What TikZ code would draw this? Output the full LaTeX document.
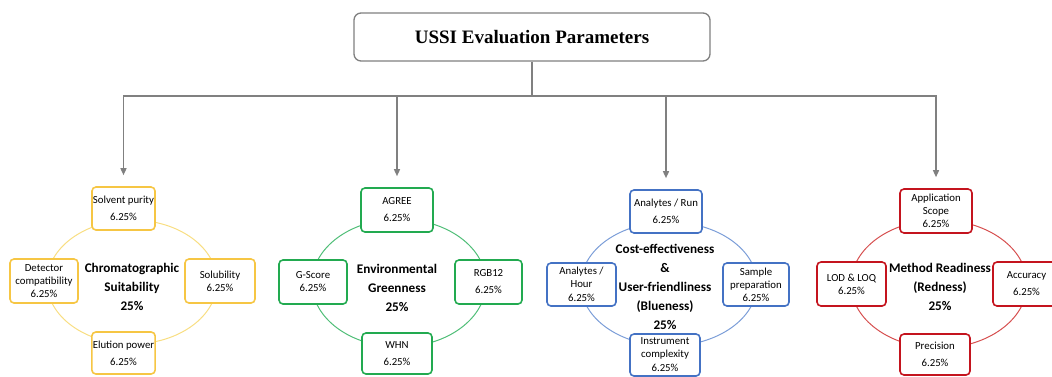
\documentclass[tikz,border=0pt]{standalone}
\usepackage{fontspec}
\setmainfont{Carlito}
\newfontfamily\titlefont{Liberation Serif}
\usetikzlibrary{arrows.meta}

\definecolor{connGray}{RGB}{128,128,128}
\definecolor{yBox}{RGB}{246,198,68}
\definecolor{yRing}{RGB}{248,222,130}
\definecolor{gBox}{RGB}{34,170,80}
\definecolor{gRing}{RGB}{80,190,120}
\definecolor{bBox}{RGB}{68,114,196}
\definecolor{bRing}{RGB}{124,158,216}
\definecolor{rBox}{RGB}{196,20,30}
\definecolor{rRing}{RGB}{214,80,80}

\tikzset{
  headbox/.style={draw=connGray, line width=1.3pt, rounded corners=7pt, fill=white,
    minimum width=356pt, minimum height=48pt,
    font=\titlefont\bfseries\fontsize{19}{22}\selectfont},
  bus/.style={draw=connGray, line width=1.4pt},
  conn/.style={draw=connGray, line width=1.4pt, -{Triangle[length=7pt,width=6pt]}, shorten >=11pt},
  param/.style={draw=#1, line width=1.6pt, rounded corners=4pt, fill=white, align=center,
    inner sep=1pt, font=\fontsize{10.8}{13}\selectfont},
  hub/.style={align=center, font=\bfseries\fontsize{13.2}{19}\selectfont},
  ring/.style={draw=#1, line width=1pt}
}

\begin{document}
\begin{tikzpicture}[x=1pt,y=-1pt]
\useasboundingbox (0,0) rectangle (1052,376);
\clip (0,0) rectangle (1052,376);

% header and distribution bus
\node[headbox] (title) at (532,37) {USSI Evaluation Parameters};
\coordinate (bus) at (532,96);

% ---- chromatographic suitability (yellow)
\draw[ring=yRing] (132,282) ellipse [x radius=85pt, y radius=62pt];
\node[hub] (c1) at (132,287) {Chromatographic\\Suitability\\25\%};
\node[param=yBox, minimum width=63pt, minimum height=43pt] (c1t) at (123.5,208.5) {Solvent purity\\[4pt]6.25\%};
\node[param=yBox, minimum width=68pt, minimum height=44pt] (c1l) at (44,281) {Detector\\compatibility\\6.25\%};
\node[param=yBox, minimum width=70pt, minimum height=44pt] (c1r) at (220,281) {Solubility\\6.25\%};
\node[param=yBox, minimum width=63pt, minimum height=42pt] (c1b) at (123.5,353) {Elution power\\[4pt]6.25\%};

% ---- environmental greenness (green)
\draw[ring=gRing] (399,283) ellipse [x radius=87pt, y radius=64pt];
\node[hub] (c2) at (397,288) {Environmental\\Greenness\\25\%};
\node[param=gBox, minimum width=72pt, minimum height=44pt] (c2t) at (397,210) {AGREE\\[4pt]6.25\%};
\node[param=gBox, minimum width=68pt, minimum height=44pt] (c2l) at (313,282) {G-Score\\6.25\%};
\node[param=gBox, minimum width=67pt, minimum height=44pt] (c2r) at (488.5,282) {RGB12\\[4pt]6.25\%};
\node[param=gBox, minimum width=70pt, minimum height=41pt] (c2b) at (397,353.5) {WHN\\[4pt]6.25\%};

% ---- cost-effectiveness & user-friendliness (blue)
\draw[ring=bRing] (669,284) ellipse [x radius=88pt, y radius=62pt];
\node[hub] (c3) at (665,287) {Cost-effectiveness\\\&\\User-friendliness\\(Blueness)\\25\%};
\node[param=bBox, minimum width=72pt, minimum height=43pt] (c3t) at (666,211.5) {Analytes / Run\\[4pt]6.25\%};
\node[param=bBox, minimum width=69pt, minimum height=43pt] (c3l) at (581.5,284.5) {Analytes /\\Hour\\[1pt]6.25\%};
\node[param=bBox, minimum width=66pt, minimum height=43pt] (c3r) at (756,284.5) {Sample\\preparation\\6.25\%};
\node[param=bBox, minimum width=70pt, minimum height=42pt] (c3b) at (665,355) {Instrument\\complexity\\[1pt]6.25\%};

% ---- method readiness (red)
\draw[ring=rRing] (939,284) ellipse [x radius=88pt, y radius=64pt];
\node[hub] (c4) at (940,287) {Method Readiness\\(Redness)\\25\%};
\node[param=rBox, minimum width=72pt, minimum height=44pt] (c4t) at (936,211) {Application\\Scope\\6.25\%};
\node[param=rBox, minimum width=69pt, minimum height=44pt] (c4l) at (851.5,284) {LOD \& LOQ\\6.25\%};
\node[param=rBox, minimum width=67pt, minimum height=44pt] (c4r) at (1026.5,284) {Accuracy\\[4pt]6.25\%};
\node[param=rBox, minimum width=70pt, minimum height=41pt] (c4b) at (935,354.5) {Precision\\[4pt]6.25\%};

% ---- connectors
\draw[bus] (title.south) -- (bus);
\draw[conn] (bus) -| (c1t.north);
\draw[conn] (bus) -| (c2t.north);
\draw[conn] (bus) -| (c3t.north);
\draw[conn] (bus) -| (c4t.north);
\end{tikzpicture}
\end{document}
